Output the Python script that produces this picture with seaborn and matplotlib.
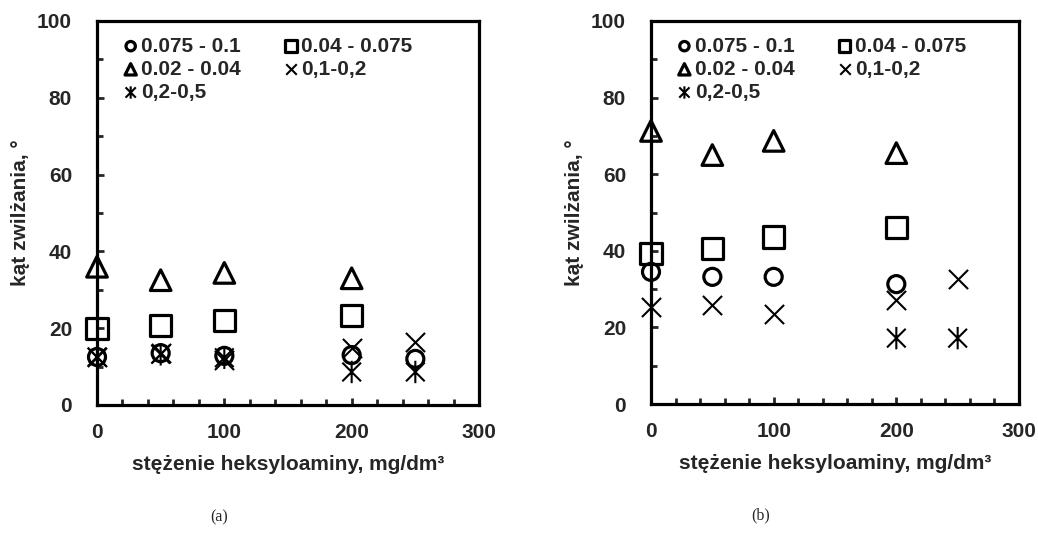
import numpy as np
import matplotlib
matplotlib.use("Agg")
import matplotlib.pyplot as plt
from matplotlib.path import Path
from matplotlib.ticker import MultipleLocator
import seaborn as sns

sns.set_style("white")
plt.rcParams['font.family'] = ['Liberation Sans', 'DejaVu Sans']
plt.rcParams['font.weight'] = 'bold'

# stężenie heksyloaminy, mg/dm3
stez = [0, 50, 100, 200, 250]

# panel (a)
a_0075_01 = [12.5, 13.5, 12.8, 13.0, 12.0]
a_004_0075 = [19.8, 20.6, 22.1, 23.2]
a_002_004 = [36.0, 32.5, 34.4, 33.0]
a_01_02 = [12.5, 13.5, 11.8, 14.8, 16.4]
a_02_05 = [12.5, 13.2, 12.3, 8.6, 8.6]

# panel (b)
b_0075_01 = [34.5, 33.2, 33.2, 31.3]
b_004_0075 = [39.2, 40.7, 43.6, 46.0]
b_002_004 = [71.3, 65.0, 68.7, 65.5]
b_01_02 = [25.3, 25.9, 23.5, 27.2, 32.6]
b_02_05_x = [200, 250]
b_02_05 = [17.2, 17.2]

labels = ["0.075 - 0.1", "0.04 - 0.075", "0.02 - 0.04", "0,1-0,2", "0,2-0,5"]

# asterisk marker: X plus vertical line
aster = Path([(-0.5, -0.5), (0.5, 0.5), (-0.5, 0.5), (0.5, -0.5), (0, -0.6), (0, 0.6)],
             [Path.MOVETO, Path.LINETO, Path.MOVETO, Path.LINETO, Path.MOVETO, Path.LINETO])

fig = plt.figure(figsize=(10.38, 5.35), dpi=100)
ax_a = fig.add_axes([97/1038, 1-405/535, 382/1038, 384/535])
ax_b = fig.add_axes([651/1038, 1-404/535, 368/1038, 383/535])


def draw(ax, series):
    for (x, y, lab, mk, s) in series:
        if mk == 'x':
            sns.scatterplot(x=x, y=y, ax=ax, marker='x', s=s, color='black',
                            linewidth=1.5, label=lab, clip_on=False, zorder=3)
        else:
            lw = 1.5 if mk is aster else 2.3
            sns.scatterplot(x=x, y=y, ax=ax, marker=mk, s=s, facecolor='none',
                            edgecolor='black', linewidth=lw, label=lab,
                            clip_on=False, zorder=3)
    handles, labs = ax.get_legend_handles_labels()
    d = dict(zip(labs, handles))
    order = [labels[0], labels[2], labels[4], labels[1], labels[3]]
    ax.legend([d[k] for k in order], order, ncol=2, loc='upper left',
              bbox_to_anchor=(0.02, 1.0), frameon=False, fontsize=15,
              markerscale=0.55, handletextpad=0.0, columnspacing=1.9,
              labelspacing=0.2, borderaxespad=0.35, handlelength=1.0)

    ax.set_xlim(0, 300)
    ax.set_ylim(0, 100)
    ax.xaxis.set_major_locator(MultipleLocator(100))
    ax.xaxis.set_minor_locator(MultipleLocator(20))
    ax.yaxis.set_major_locator(MultipleLocator(20))
    ax.yaxis.set_minor_locator(MultipleLocator(10))
    ax.tick_params(which='both', direction='in', width=2, length=4,
                   bottom=True, left=True, top=False, right=False)
    ax.tick_params(which='major', length=5, labelsize=15)
    ax.tick_params(axis='x', which='major', pad=13)
    ax.tick_params(axis='y', which='major', pad=18)
    for sp in ax.spines.values():
        sp.set_linewidth(2.3)
        sp.set_color('black')
    ax.set_xlabel("stężenie heksyloaminy, mg/dm³", fontsize=15, fontweight='bold', labelpad=9)
    ax.set_ylabel("kąt zwilżania, °", fontsize=15, fontweight='bold', labelpad=5)


draw(ax_a, [
    (stez, a_0075_01, labels[0], 'o', 150),
    (stez[:4], a_004_0075, labels[1], 's', 230),
    (stez[:4], a_002_004, labels[2], '^', 220),
    (stez, a_01_02, labels[3], 'x', 190),
    (stez, a_02_05, labels[4], aster, 260),
])
draw(ax_b, [
    (stez[:4], b_0075_01, labels[0], 'o', 150),
    (stez[:4], b_004_0075, labels[1], 's', 230),
    (stez[:4], b_002_004, labels[2], '^', 220),
    (stez, b_01_02, labels[3], 'x', 190),
    (b_02_05_x, b_02_05, labels[4], aster, 260),
])

fig.text(219/1038, 1-517/535, "(a)", family='Liberation Serif', fontweight='normal',
         fontsize=11.5, ha='center', va='center')
fig.text(761/1038, 1-515/535, "(b)", family='Liberation Serif', fontweight='normal',
         fontsize=11.5, ha='center', va='center')

fig.savefig("out.png", dpi=100)
